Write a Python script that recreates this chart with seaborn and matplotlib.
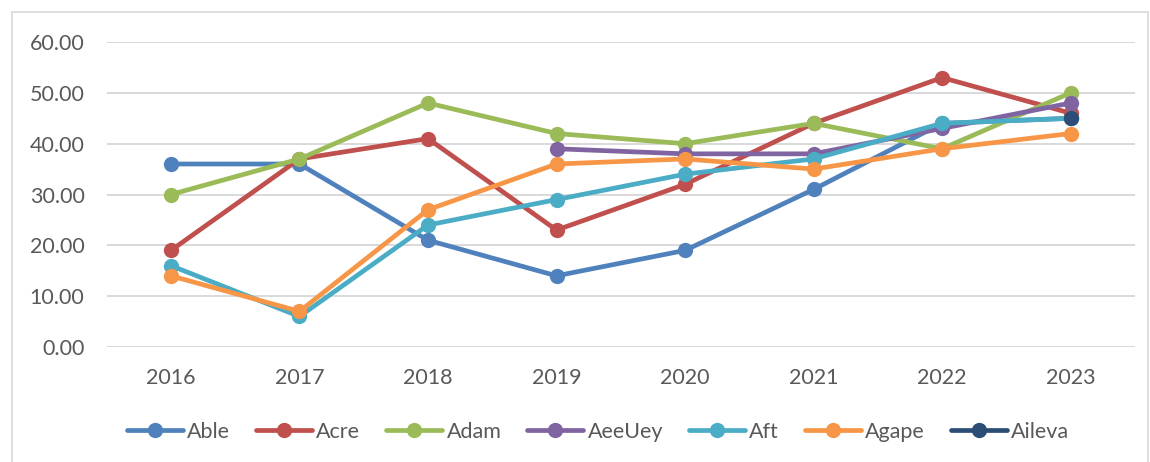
import matplotlib
matplotlib.use("Agg")
import matplotlib.pyplot as plt
import seaborn as sns
import pandas as pd
from matplotlib.patches import Rectangle

years = [2016, 2017, 2018, 2019, 2020, 2021, 2022, 2023]
series_names = ["Able", "Acre", "Adam", "AeeUey", "Aft", "Agape", "Aileva"]

able = [36, 36, 21, 14, 19, 31, 44, 45]
acre = [19, 37, 41, 23, 32, 44, 53, 46]
adam = [30, 37, 48, 42, 40, 44, 39, 50]
aeeuey = [None, None, None, 39, 38, 38, 43, 48]
aft = [16, 6, 24, 29, 34, 37, 44, 45]
agape = [14, 7, 27, 36, 37, 35, 39, 42]
aileva = [None, None, None, None, None, None, None, 45]

colors = ["#4F81BD", "#C0504D", "#9BBB59", "#8064A2", "#4BACC6", "#F79646", "#2C4D75"]
y_ticks = [0, 10, 20, 30, 40, 50, 60]

rows = []
for name, vals in zip(series_names, [able, acre, adam, aeeuey, aft, agape, aileva]):
    for yr, v in zip(years, vals):
        if v is not None:
            rows.append({"year": yr, "value": v, "series": name})
df = pd.DataFrame(rows)

sns.set_theme(style="white")
plt.rcParams["font.family"] = ["Lato", "DejaVu Sans"]

fig = plt.figure(figsize=(11.5, 4.62), dpi=100)
ax = fig.add_axes([0.0928, 0.249, 0.894, 0.660])

# outer chart border
fig.patches.append(Rectangle((12 / 1150, -0.02), 1136 / 1150, 1 - 12 / 462 + 0.02,
                             transform=fig.transFigure, fill=False,
                             edgecolor="#D9D9D9", linewidth=1.2, zorder=0))

sns.lineplot(data=df, x="year", y="value", hue="series", hue_order=series_names,
             palette=colors, marker="o", markersize=11, markeredgewidth=0,
             linewidth=3.4, ax=ax, legend=True, estimator=None)

ax.set_xlim(2015.5, 2023.5)
ax.set_ylim(0, 60)
ax.set_xticks(years)
ax.set_xticklabels([str(y) for y in years])
ax.set_yticks(y_ticks)
ax.set_yticklabels([f"{v:.2f}" for v in y_ticks])
ax.set_xlabel("")
ax.set_ylabel("")
for s in ax.spines.values():
    s.set_visible(False)
ax.grid(axis="y", color="#D9D9D9", linewidth=1.4)
ax.set_axisbelow(True)
ax.tick_params(axis="both", length=0, labelsize=15.5, labelcolor="#595959")
ax.tick_params(axis="y", pad=16)
ax.tick_params(axis="x", pad=15)

handles, labels = ax.get_legend_handles_labels()
ax.get_legend().remove()
fig.legend(handles, labels, loc="center", bbox_to_anchor=(0.52, 0.066), ncol=7,
           frameon=False, fontsize=15.5, handlelength=2.6, handletextpad=0.2,
           columnspacing=1.2, labelcolor="#595959")

fig.savefig("out.png", dpi=100)
